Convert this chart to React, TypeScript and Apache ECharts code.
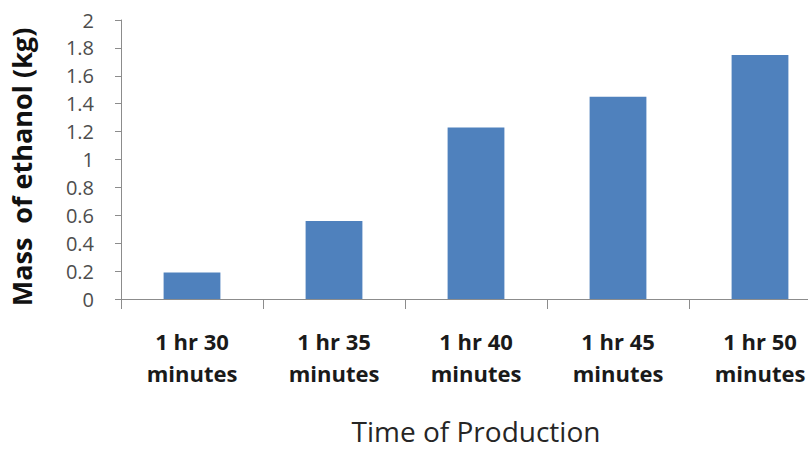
import React, { useEffect, useRef } from "react";
import * as echarts from "echarts";

const categories = [
  "1 hr 30\nminutes",
  "1 hr 35\nminutes",
  "1 hr 40\nminutes",
  "1 hr 45\nminutes",
  "1 hr 50\nminutes",
];
const massValues = [0.19, 0.56, 1.23, 1.45, 1.75];
const yTitle = "Mass  of ethanol (kg)";
const xTitle = "Time of Production";

export default function App() {
  const ref = useRef<HTMLDivElement>(null);
  useEffect(() => {
    if (!ref.current) return;
    const chart = echarts.init(ref.current, null, { renderer: "svg" });
    chart.setOption({
      animation: false,
      backgroundColor: "#ffffff",
      textStyle: { fontFamily: "Open Sans" },
      grid: { left: 119.5, right: 1, top: 20, bottom: 143, containLabel: false },
      xAxis: {
        type: "category",
        data: categories,
        name: xTitle,
        nameLocation: "middle",
        nameGap: 118,
        nameTextStyle: { fontSize: 28, color: "#262626", fontFamily: "Open Sans" },
        axisLine: { show: true, lineStyle: { color: "#8c8c8c", width: 1 } },
        axisTick: { show: true, length: 10, alignWithLabel: false, lineStyle: { color: "#8c8c8c" } },
        axisLabel: {
          interval: 0,
          margin: 26,
          fontSize: 22,
          fontWeight: "bold",
          lineHeight: 32,
          color: "#1a1a1a",
          fontFamily: "Open Sans",
        },
        splitLine: { show: false },
      },
      yAxis: {
        type: "value",
        min: 0,
        max: 2,
        interval: 0.2,
        name: yTitle,
        nameLocation: "middle",
        nameRotate: 90,
        nameGap: 86,
        nameTextStyle: {
          fontSize: 27,
          fontWeight: "bold",
          color: "#111111",
          fontFamily: "Open Sans",
          padding: [0, 15, 0, 0],
        },
        axisLine: { show: true, lineStyle: { color: "#8c8c8c", width: 1 } },
        axisTick: { show: true, length: 6, lineStyle: { color: "#8c8c8c" } },
        axisLabel: { margin: 27, fontSize: 20, color: "#4d4d4d", fontFamily: "Open Sans" },
        splitLine: { show: false },
      },
      series: [
        {
          type: "bar",
          data: massValues,
          barWidth: "40%",
          itemStyle: { color: "#4F81BD" },
        },
      ],
    });
    return () => chart.dispose();
  }, []);
  return (
    <div
      style={{
        position: "fixed",
        left: 0,
        top: 0,
        width: 808,
        height: 450,
        overflow: "hidden",
        background: "#fff",
      }}
    >
      <div ref={ref} style={{ width: 832, height: 450 }} />
    </div>
  );
}
